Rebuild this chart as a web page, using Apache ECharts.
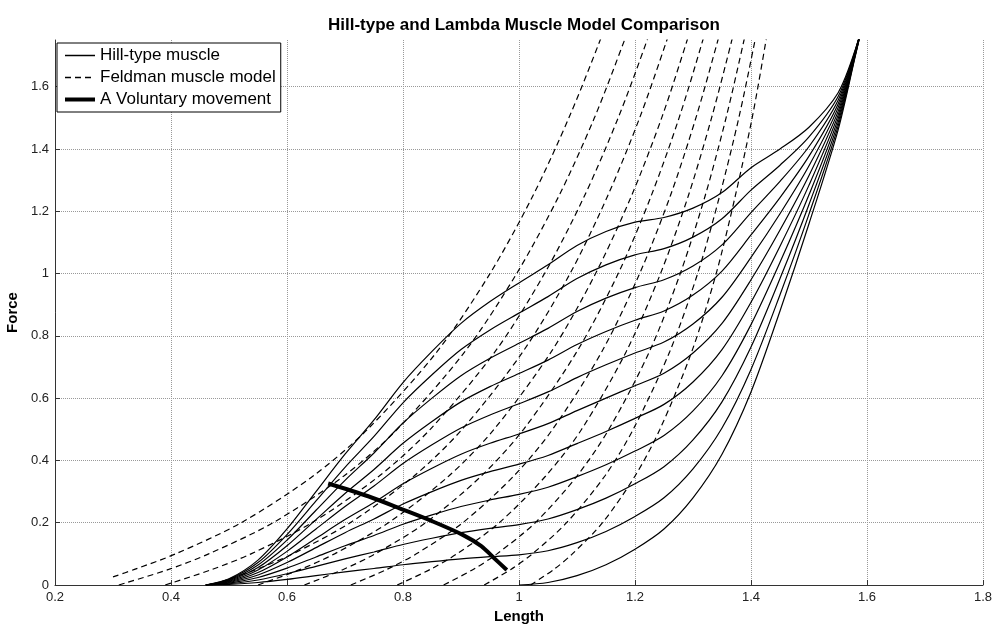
<!DOCTYPE html>
<html>
<head>
<meta charset="utf-8">
<script src="https://cdn.jsdelivr.net/npm/echarts@6/dist/echarts.min.js"></script>
<style>
html, body { margin: 0; padding: 0; background: #fff; }
#chart { width: 997px; height: 624px; }
</style>
</head>
<body>
<div id="chart"></div>
<script>
// Hill-type muscle: force at each length, one list per activation level (lowest first)
var hillLength = [0.46, 0.5, 0.55, 0.6, 0.65, 0.7, 0.75, 0.8, 0.85, 0.9, 0.95, 1.0, 1.05, 1.1, 1.15, 1.2, 1.25, 1.3, 1.35, 1.4, 1.45, 1.5, 1.55, 1.58, 1.6];
var hillPassiveLength = [1.0, 1.05, 1.1, 1.15, 1.2, 1.25, 1.3, 1.35, 1.4, 1.45, 1.5, 1.55, 1.58, 1.6];
var hillPassive = [0, 0.008, 0.03, 0.065, 0.115, 0.18, 0.28, 0.42, 0.62, 0.88, 1.16, 1.46, 1.70, 1.86];
var hillForce = [
  [0, 0.002, 0.008, 0.018, 0.03, 0.042, 0.053, 0.065, 0.075, 0.084, 0.091, 0.097, 0.110, 0.136, 0.172, 0.22, 0.28, 0.373, 0.504, 0.692, 0.932, 1.191, 1.472, 1.702, 1.86],
  [0, 0.004, 0.016, 0.036, 0.06, 0.084, 0.106, 0.13, 0.15, 0.168, 0.182, 0.194, 0.212, 0.242, 0.279, 0.325, 0.38, 0.466, 0.588, 0.764, 0.984, 1.222, 1.484, 1.704, 1.86],
  [0, 0.006, 0.024, 0.054, 0.09, 0.126, 0.159, 0.195, 0.225, 0.252, 0.273, 0.291, 0.314, 0.348, 0.386, 0.43, 0.48, 0.559, 0.672, 0.836, 1.036, 1.253, 1.496, 1.706, 1.86],
  [0, 0.008, 0.032, 0.072, 0.12, 0.168, 0.212, 0.26, 0.3, 0.336, 0.364, 0.388, 0.416, 0.454, 0.493, 0.535, 0.58, 0.652, 0.756, 0.908, 1.088, 1.284, 1.508, 1.708, 1.86],
  [0, 0.01, 0.04, 0.09, 0.15, 0.21, 0.265, 0.325, 0.375, 0.42, 0.455, 0.485, 0.518, 0.56, 0.60, 0.64, 0.68, 0.745, 0.84, 0.98, 1.14, 1.315, 1.52, 1.71, 1.86],
  [0, 0.012, 0.048, 0.108, 0.18, 0.252, 0.318, 0.39, 0.45, 0.504, 0.546, 0.582, 0.62, 0.666, 0.707, 0.745, 0.78, 0.838, 0.924, 1.052, 1.192, 1.346, 1.532, 1.712, 1.86],
  [0, 0.014, 0.056, 0.126, 0.21, 0.294, 0.371, 0.455, 0.525, 0.588, 0.637, 0.679, 0.722, 0.772, 0.814, 0.85, 0.88, 0.931, 1.008, 1.124, 1.244, 1.377, 1.544, 1.714, 1.86],
  [0, 0.016, 0.064, 0.144, 0.24, 0.336, 0.424, 0.52, 0.6, 0.672, 0.728, 0.776, 0.824, 0.878, 0.921, 0.955, 0.98, 1.024, 1.092, 1.196, 1.296, 1.408, 1.556, 1.716, 1.86],
  [0, 0.018, 0.072, 0.162, 0.27, 0.378, 0.477, 0.585, 0.675, 0.756, 0.819, 0.873, 0.926, 0.984, 1.028, 1.06, 1.08, 1.117, 1.176, 1.268, 1.348, 1.439, 1.568, 1.718, 1.86],
  [0, 0.02, 0.08, 0.18, 0.30, 0.42, 0.53, 0.65, 0.75, 0.84, 0.91, 0.97, 1.028, 1.09, 1.135, 1.165, 1.18, 1.21, 1.26, 1.34, 1.40, 1.47, 1.58, 1.72, 1.86]
];

// Feldman (lambda) model: length reached at each force level, one list per lambda
var feldForce = [0, 0.05, 0.1, 0.2, 0.35, 0.5, 0.75, 1.0, 1.25, 1.5, 1.75, 1.9];
var feldStartForce = [0.026, 0, 0, 0, 0, 0, 0, 0, 0, 0, 0];
var feldLengths = [
  [0.30, 0.337, 0.408, 0.521, 0.645, 0.739, 0.859, 0.950, 1.024, 1.086, 1.140, 1.169],
  [0.31, 0.396, 0.465, 0.576, 0.698, 0.790, 0.907, 0.996, 1.069, 1.130, 1.182, 1.211],
  [0.39, 0.471, 0.538, 0.643, 0.759, 0.847, 0.959, 1.044, 1.113, 1.171, 1.221, 1.248],
  [0.47, 0.547, 0.610, 0.709, 0.819, 0.902, 1.007, 1.088, 1.153, 1.208, 1.255, 1.281],
  [0.55, 0.623, 0.682, 0.775, 0.879, 0.957, 1.056, 1.132, 1.194, 1.246, 1.290, 1.314],
  [0.63, 0.697, 0.752, 0.839, 0.935, 1.008, 1.100, 1.171, 1.228, 1.276, 1.317, 1.339],
  [0.71, 0.772, 0.823, 0.903, 0.991, 1.058, 1.143, 1.208, 1.261, 1.305, 1.343, 1.364],
  [0.79, 0.847, 0.893, 0.966, 1.046, 1.108, 1.185, 1.244, 1.292, 1.332, 1.367, 1.386],
  [0.87, 0.921, 0.962, 1.028, 1.100, 1.155, 1.225, 1.278, 1.321, 1.357, 1.388, 1.405],
  [0.94, 0.986, 1.023, 1.082, 1.148, 1.197, 1.260, 1.308, 1.346, 1.379, 1.407, 1.422],
  [1.02, 1.060, 1.092, 1.144, 1.200, 1.243, 1.298, 1.340, 1.373, 1.402, 1.426, 1.439]
];

// voluntary movement trajectory
var moveLength = [0.671, 0.74, 0.80, 0.85, 0.903, 0.935, 0.955, 0.979];
var moveForce = [0.326, 0.285, 0.242, 0.205, 0.161, 0.125, 0.09, 0.048];

var xTicks = { min: 0.2, max: 1.8, step: 0.2 };
var yTicks = { min: 0, max: 1.75, step: 0.2 };

function pairs(xs, ys) {
  var out = [];
  for (var i = 0; i < xs.length; i++) out.push([xs[i], ys[i]]);
  return out;
}

var series = [];
series.push({
  name: 'Hill-type muscle', type: 'line', smooth: 0.3, symbol: 'none',
  itemStyle: { color: '#000' },
  lineStyle: { color: '#000', width: 1.2 },
  data: pairs(hillPassiveLength, hillPassive)
});
for (var k = 0; k < hillForce.length; k++) {
  series.push({
    name: 'Hill-type muscle', type: 'line', smooth: 0.3, symbol: 'none',
    itemStyle: { color: '#000' },
    lineStyle: { color: '#000', width: 1.2 },
    data: pairs(hillLength, hillForce[k])
  });
}
for (var j = 0; j < feldLengths.length; j++) {
  var fy = feldForce.slice();
  fy[0] = feldStartForce[j];
  series.push({
    name: 'Feldman muscle model', type: 'line', smooth: 0.3, symbol: 'none',
    itemStyle: { color: '#000' },
    lineStyle: { color: '#000', width: 1.2, type: [6, 4] },
    data: pairs(feldLengths[j], fy)
  });
}
series.push({
  name: 'A Voluntary movement', type: 'line', smooth: 0.3, symbol: 'none',
  itemStyle: { color: '#000' },
  lineStyle: { color: '#000', width: 4 },
  data: pairs(moveLength, moveForce)
});

var chart = echarts.init(document.getElementById('chart'));
chart.setOption({
  animation: false,
  textStyle: { fontFamily: 'Liberation Sans, Arial, sans-serif' },
  title: {
    text: 'Hill-type and Lambda Muscle Model Comparison',
    left: 519, top: 12, textAlign: 'center',
    textStyle: { fontSize: 17, fontWeight: 'bold', color: '#000' }
  },
  legend: {
    orient: 'vertical', left: 57, top: 43,
    padding: [4, 5, 4, 6],
    borderColor: '#000', borderWidth: 1, backgroundColor: '#fff',
    itemWidth: 30, itemHeight: 14, itemGap: 5,
    itemStyle: { opacity: 0 },
    textStyle: { fontSize: 17, color: '#000' },
    data: [
      { name: 'Hill-type muscle', lineStyle: { width: 1.5 } },
      { name: 'Feldman muscle model', lineStyle: { width: 1.5, type: [6, 4] } },
      { name: 'A Voluntary movement', lineStyle: { width: 4 } }
    ]
  },
  grid: { left: 55, right: 14, top: 40, bottom: 39, containLabel: false, outerBoundsMode: 'none' },
  xAxis: {
    type: 'value', min: xTicks.min, max: xTicks.max, interval: xTicks.step,
    name: 'Length', nameLocation: 'middle', nameGap: 16,
    nameTextStyle: { fontSize: 15, fontWeight: 'bold', color: '#000' },
    axisLine: { lineStyle: { color: '#333' } },
    axisTick: { inside: true, length: 5, lineStyle: { color: '#333' } },
    axisLabel: { fontSize: 13, color: '#222', margin: 6 },
    splitLine: { show: true, lineStyle: { color: '#999', type: 'dotted' } }
  },
  yAxis: {
    type: 'value', min: yTicks.min, max: yTicks.max, interval: yTicks.step,
    name: 'Force', nameLocation: 'middle', nameGap: 24,
    nameTextStyle: { fontSize: 15, fontWeight: 'bold', color: '#000' },
    axisLine: { show: true, lineStyle: { color: '#333' } },
    axisTick: { show: true, inside: true, length: 5, lineStyle: { color: '#333' } },
    axisLabel: { fontSize: 13, color: '#222', margin: 6, showMaxLabel: false },
    splitLine: { show: true, showMaxLine: false, lineStyle: { color: '#999', type: 'dotted' } }
  },
  series: series
});
</script>
</body>
</html>
